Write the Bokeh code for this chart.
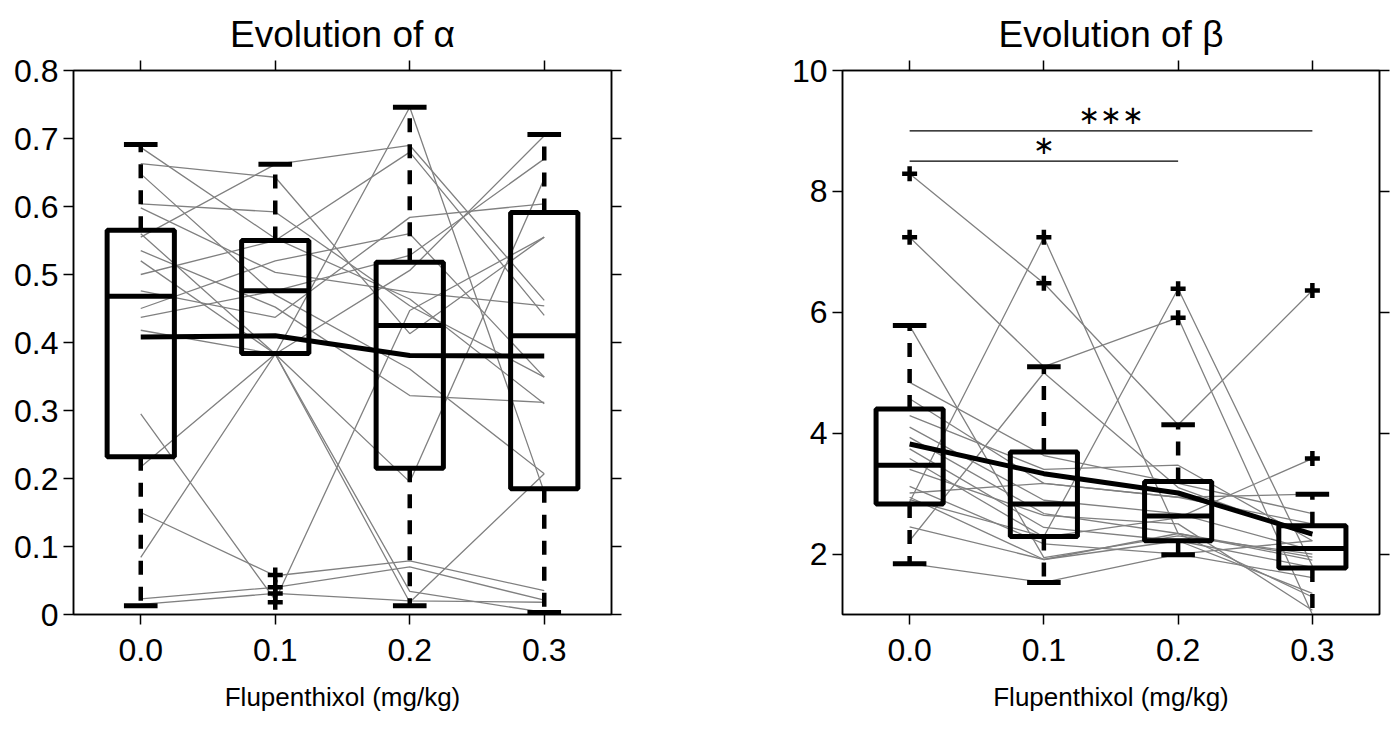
from bokeh.plotting import figure
from bokeh.layouts import row
from bokeh.models import Range1d, FixedTicker, LinearAxis
from bokeh.core.properties import value
from bokeh.embed import file_html
from bokeh.resources import INLINE

# ---------------- data ----------------
doses = [0.0, 0.1, 0.2, 0.3]
dose_labels = ["0.0", "0.1", "0.2", "0.3"]

# individual subjects, alpha (values at 0.0, 0.1, 0.2, 0.3)
alpha_subjects = [
    [0.687, 0.553, 0.464, 0.310],
    [0.663, 0.643, 0.413, 0.555],
    [0.648, 0.470, 0.361, 0.207],
    [0.604, 0.592, 0.454, 0.349],
    [0.598, 0.503, 0.474, 0.454],
    [0.555, 0.662, 0.690, 0.462],
    [0.535, 0.452, 0.322, 0.312],
    [0.500, 0.550, 0.680, 0.440],
    [0.476, 0.437, 0.584, 0.604],
    [0.437, 0.476, 0.528, 0.670],
    [0.418, 0.383, 0.195, 0.641],
    [0.217, 0.383, 0.746, 0.180],
    [0.295, 0.021, 0.447, 0.555],
    [0.150, 0.057, 0.079, 0.035],
    [0.084, 0.383, 0.018, 0.207],
    [0.023, 0.040, 0.070, 0.021],
    [0.015, 0.031, 0.020, 0.018],
    [0.560, 0.383, 0.506, 0.704],
    [0.450, 0.520, 0.560, 0.349],
    [0.520, 0.383, 0.034, 0.003],
]
alpha_q1 = [0.232, 0.384, 0.215, 0.185]
alpha_med = [0.468, 0.476, 0.425, 0.410]
alpha_q3 = [0.565, 0.550, 0.518, 0.591]
alpha_wlo = [0.013, 0.384, 0.013, 0.003]
alpha_whi = [0.691, 0.662, 0.746, 0.706]
alpha_mean = [0.408, 0.410, 0.381, 0.380]
alpha_out_x = [0.1, 0.1, 0.1, 0.1]
alpha_out_y = [0.058, 0.040, 0.031, 0.018]
alpha_yticks = [0.0, 0.1, 0.2, 0.3, 0.4, 0.5, 0.6, 0.7, 0.8]
alpha_ytick_labels = ["0", "0.1", "0.2", "0.3", "0.4", "0.5", "0.6", "0.7", "0.8"]

# individual subjects, beta
beta_subjects = [
    [8.29, 6.48, 4.14, 6.36],
    [7.24, 5.10, 5.91, 1.00],
    [5.78, 1.94, 2.30, 2.00],
    [2.86, 7.24, 2.34, 1.90],
    [2.22, 5.00, 3.10, 2.30],
    [4.84, 3.63, 3.17, 2.67],
    [4.57, 3.17, 2.94, 2.50],
    [4.29, 3.40, 3.47, 2.22],
    [4.10, 2.89, 2.67, 2.06],
    [3.93, 2.67, 2.34, 1.95],
    [3.74, 2.44, 2.22, 1.78],
    [3.58, 2.28, 2.60, 3.58],
    [3.12, 2.17, 2.00, 1.61],
    [3.01, 3.17, 2.94, 2.99],
    [2.94, 1.91, 2.22, 1.35],
    [2.45, 1.91, 2.34, 1.29],
    [1.84, 1.53, 2.00, 2.22],
    [3.40, 2.64, 2.50, 1.07],
    [2.90, 2.29, 6.39, 1.80],
]
beta_q1 = [2.83, 2.29, 2.22, 1.77]
beta_med = [3.47, 2.83, 2.63, 2.09]
beta_q3 = [4.40, 3.69, 3.20, 2.47]
beta_wlo = [1.84, 1.53, 1.99, 0.85]
beta_whi = [5.78, 5.10, 4.14, 2.99]
beta_mean = [3.82, 3.33, 3.01, 2.33]
beta_out_x = [0.0, 0.0, 0.1, 0.1, 0.2, 0.2, 0.3, 0.3]
beta_out_y = [8.29, 7.24, 7.24, 6.48, 6.39, 5.91, 6.36, 3.58]
beta_yticks = [2, 4, 6, 8, 10]
beta_ytick_labels = ["2", "4", "6", "8", "10"]

sig_x0 = [0.0, 0.0]
sig_x1 = [0.3, 0.2]
sig_y = [9.0, 8.5]
sig_text_x = [0.15, 0.1]
sig_text_y = [9.26, 8.76]
sig_labels = ["\u2217\u2217\u2217", "\u2217"]

FONT = "Liberation Sans"
BOX_HALF = 0.025
CAP_HALF = 0.0125


def make_panel(title, subjects, q1, med, q3, wlo, whi, mean, out_x, out_y,
               yr, yticks, ylabels, bl, br):
    p = figure(width=697, height=744, x_range=Range1d(-0.05, 0.35),
               y_range=Range1d(*yr), output_backend="svg", toolbar_location=None,
               min_border_left=bl, min_border_right=br, min_border_top=70,
               min_border_bottom=130, outline_line_color="black",
               outline_line_width=1.5)
    p.grid.visible = False
    p.title.text = title
    p.title.align = "center"
    p.title.text_font = FONT
    p.title.text_font_size = "37px"
    p.title.text_font_style = "normal"
    p.title.text_color = "black"
    p.title.standoff = 12

    # subject lines
    for s in subjects:
        p.line(doses, s, line_color="#808080", line_width=1.3)

    # whiskers
    p.segment(x0=doses, y0=q3, x1=doses, y1=whi, line_color="black",
              line_width=4.5, line_dash="14 12")
    p.segment(x0=doses, y0=q1, x1=doses, y1=wlo, line_color="black",
              line_width=4.5, line_dash="14 12")
    xl = [d - CAP_HALF for d in doses]
    xr = [d + CAP_HALF for d in doses]
    p.segment(x0=xl, y0=whi, x1=xr, y1=whi, line_color="black", line_width=5)
    p.segment(x0=xl, y0=wlo, x1=xr, y1=wlo, line_color="black", line_width=5)
    # boxes
    bxl = [d - BOX_HALF for d in doses]
    bxr = [d + BOX_HALF for d in doses]
    p.quad(left=bxl, right=bxr, bottom=q1, top=q3, fill_color=None,
           line_color="black", line_width=5)
    p.segment(x0=bxl, y0=med, x1=bxr, y1=med, line_color="black", line_width=5)
    # outliers
    p.scatter(out_x, out_y, marker="cross", size=15, line_color="black",
              line_width=4.5)
    # mean
    p.line(doses, mean, line_color="black", line_width=5)

    # axes
    xt = FixedTicker(ticks=doses, minor_ticks=[])
    yt = FixedTicker(ticks=yticks, minor_ticks=[])
    xb = p.xaxis[0]
    xb.ticker = xt
    xb.major_label_overrides = {d: l for d, l in zip(doses, dose_labels)}
    xb.axis_label = "Flupenthixol (mg/kg)"
    xb.axis_label_text_font = FONT
    xb.axis_label_text_font_size = "26px"
    xb.axis_label_text_font_style = "normal"
    xb.axis_label_text_color = "black"
    xb.axis_label_standoff = 18
    xb.major_label_standoff = 14
    yl = p.yaxis[0]
    yl.ticker = yt
    yl.major_label_overrides = {t: l for t, l in zip(yticks, ylabels)}
    yl.major_label_standoff = 5
    for ax in (xb, yl):
        ax.major_label_text_font = FONT
        ax.major_label_text_font_size = "32px"
        ax.major_label_text_color = "black"
    xa = LinearAxis(ticker=xt, major_label_overrides={d: "" for d in doses})
    yr_ax = LinearAxis(ticker=yt, major_label_overrides={t: "" for t in yticks})
    p.add_layout(xa, "above")
    p.add_layout(yr_ax, "right")
    for ax in (xb, yl, xa, yr_ax):
        ax.major_tick_out = 10
        ax.major_tick_in = 0
        ax.minor_tick_out = 0
        ax.minor_tick_in = 0
        ax.axis_line_color = "black"
        ax.axis_line_width = 1.5
        ax.major_tick_line_width = 1.5
        ax.major_tick_line_color = "black"
    return p


p1 = make_panel("Evolution of \u03b1", alpha_subjects, alpha_q1, alpha_med,
                alpha_q3, alpha_wlo, alpha_whi, alpha_mean, alpha_out_x,
                alpha_out_y, (0, 0.8), alpha_yticks, alpha_ytick_labels, 73, 86)
p2 = make_panel("Evolution of \u03b2", beta_subjects, beta_q1, beta_med,
                beta_q3, beta_wlo, beta_whi, beta_mean, beta_out_x,
                beta_out_y, (1, 10), beta_yticks, beta_ytick_labels, 145, 15)

p2.segment(x0=sig_x0, y0=sig_y, x1=sig_x1, y1=sig_y, line_color="black",
           line_width=1.3)
p2.text(x=sig_text_x, y=sig_text_y, text=sig_labels,
        text_font=value("DejaVu Sans"), text_font_size="26px",
        text_align="center", text_baseline="middle", text_color="black")

layout = row(p1, p2)
open("out.html", "w").write(file_html(layout, INLINE))
